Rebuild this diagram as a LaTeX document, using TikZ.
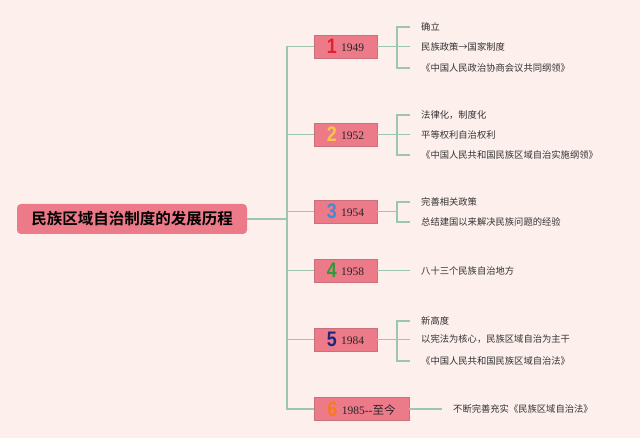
\documentclass[tikz,border=0pt]{standalone}
\usepackage{fontspec}
\usepackage{graphicx}
\setmainfont{Liberation Serif}
\newfontfamily\cjk{Noto Sans CJK SC}
\newfontfamily\cjkb{Noto Sans CJK SC Bold}
\newfontfamily\digf{Liberation Sans}
\definecolor{bg}{HTML}{FCEFEC}
\definecolor{boxfill}{HTML}{EC7A89}
\definecolor{boxline}{HTML}{C9707B}
\definecolor{lncol}{HTML}{9CC6AE}
\definecolor{txt}{HTML}{333333}
\definecolor{d1}{HTML}{E3202C}
\definecolor{d2}{HTML}{F6C648}
\definecolor{d3}{HTML}{3A8ED6}
\definecolor{d4}{HTML}{2E9A3C}
\definecolor{d5}{HTML}{20287E}
\definecolor{d6}{HTML}{F57A22}
\tikzset{
  rootbox/.style={fill=boxfill, draw=none, rounded corners=4pt, minimum width=230pt, minimum height=30pt, inner sep=0pt, font=\cjkb\fontsize{15.5}{18}\selectfont, text=black},
  yearbox/.style={fill=boxfill, draw=boxline, line width=0.5pt, minimum height=23pt, inner sep=0pt, font=\fontsize{11.5}{13}\selectfont, text=black!85},
  leaf/.style={anchor=west, inner sep=0pt, font=\cjk\fontsize{9.3}{11}\selectfont, text=txt},
  ln/.style={draw=lncol, line width=1.1pt},
}
\newcommand{\dg}[3]{{\digf\bfseries\fontsize{21}{22}\selectfont\textcolor{#1}{\scalebox{0.85}[1]{#2}}}\hspace{4.5pt}\raisebox{2.2pt}{#3}}
\begin{document}
\begin{tikzpicture}[x=1pt,y=-1pt]
\useasboundingbox[fill=bg] (0,0) rectangle (640,438);
% root
\node[rootbox] (root) at (132,219) {民族区域自治制度的发展历程};
\coordinate (t) at (287,219);
% year boxes
\node[yearbox, minimum width=63pt] (y1) at (345.5,46.5) {\dg{d1}{1}{1949}};
\node[yearbox, minimum width=63pt] (y2) at (345.5,134.5) {\dg{d2}{2}{1952}};
\node[yearbox, minimum width=63pt] (y3) at (345.5,211.5) {\dg{d3}{3}{1954}};
\node[yearbox, minimum width=63pt] (y4) at (345.5,270.5) {\dg{d4}{4}{1958}};
\node[yearbox, minimum width=63pt] (y5) at (345.5,339.5) {\dg{d5}{5}{1984}};
\node[yearbox, minimum width=95pt] (y6) at (361.5,409) {\dg{d6}{6}{1985-{}-{\cjk 至今}}};
% leaves
\node[leaf] (c11) at (421,27) {确立};
\node[leaf] (c12) at (421,46.5) {民族政策→国家制度};
\node[leaf] (c13) at (421,68) {《中国人民政治协商会议共同纲领》};
\node[leaf] (c21) at (421,115) {法律化，制度化};
\node[leaf] (c22) at (421,134.5) {平等权利自治权利};
\node[leaf] (c23) at (421,155) {《中国人民共和国民族区域自治实施纲领》};
\node[leaf] (c31) at (421,202) {完善相关政策};
\node[leaf] (c32) at (421,222) {总结建国以来解决民族问题的经验};
\node[leaf] (c41) at (421,270.5) {八十三个民族自治地方};
\node[leaf] (c51) at (421,321) {新高度};
\node[leaf] (c52) at (421,339.5) {以宪法为核心，民族区域自治为主干};
\node[leaf] (c53) at (421,361) {《中国人民共和国民族区域自治法》};
\node[leaf] (c61) at (453,409) {不断完善充实《民族区域自治法》};
% trunk
\draw[ln] (root.east) -- (t);
\draw[ln] (y1.west) -- (y1.west -| t) -- (y6.west -| t) -- (y6.west);
\draw[ln] (y2.west) -- (y2.west -| t);
\draw[ln] (y3.west) -- (y3.west -| t);
\draw[ln] (y4.west) -- (y4.west -| t);
\draw[ln] (y5.west) -- (y5.west -| t);
% brackets
\coordinate (b1) at (397,46.5);
\coordinate (b2) at (397,134.5);
\coordinate (b3) at (397,211.5);
\coordinate (b5) at (397,339.5);
\draw[ln] (y1.east) -- ([xshift=-11pt]c12.west);
\draw[ln] ([xshift=-11pt]c11.west) -| (b1) |- ([xshift=-11pt]c13.west);
\draw[ln] (y2.east) -- ([xshift=-11pt]c22.west);
\draw[ln] ([xshift=-11pt]c21.west) -| (b2) |- ([xshift=-11pt]c23.west);
\draw[ln] (y3.east) -- (b3);
\draw[ln] ([xshift=-11pt]c31.west) -| (b3) |- ([xshift=-11pt]c32.west);
\draw[ln] (y4.east) -- ([xshift=-11pt]c41.west);
\draw[ln] (y5.east) -- ([xshift=-11pt]c52.west);
\draw[ln] ([xshift=-11pt]c51.west) -| (b5) |- ([xshift=-11pt]c53.west);
\draw[ln] (y6.east) -- ([xshift=-11pt]c61.west);
\end{tikzpicture}
\end{document}
